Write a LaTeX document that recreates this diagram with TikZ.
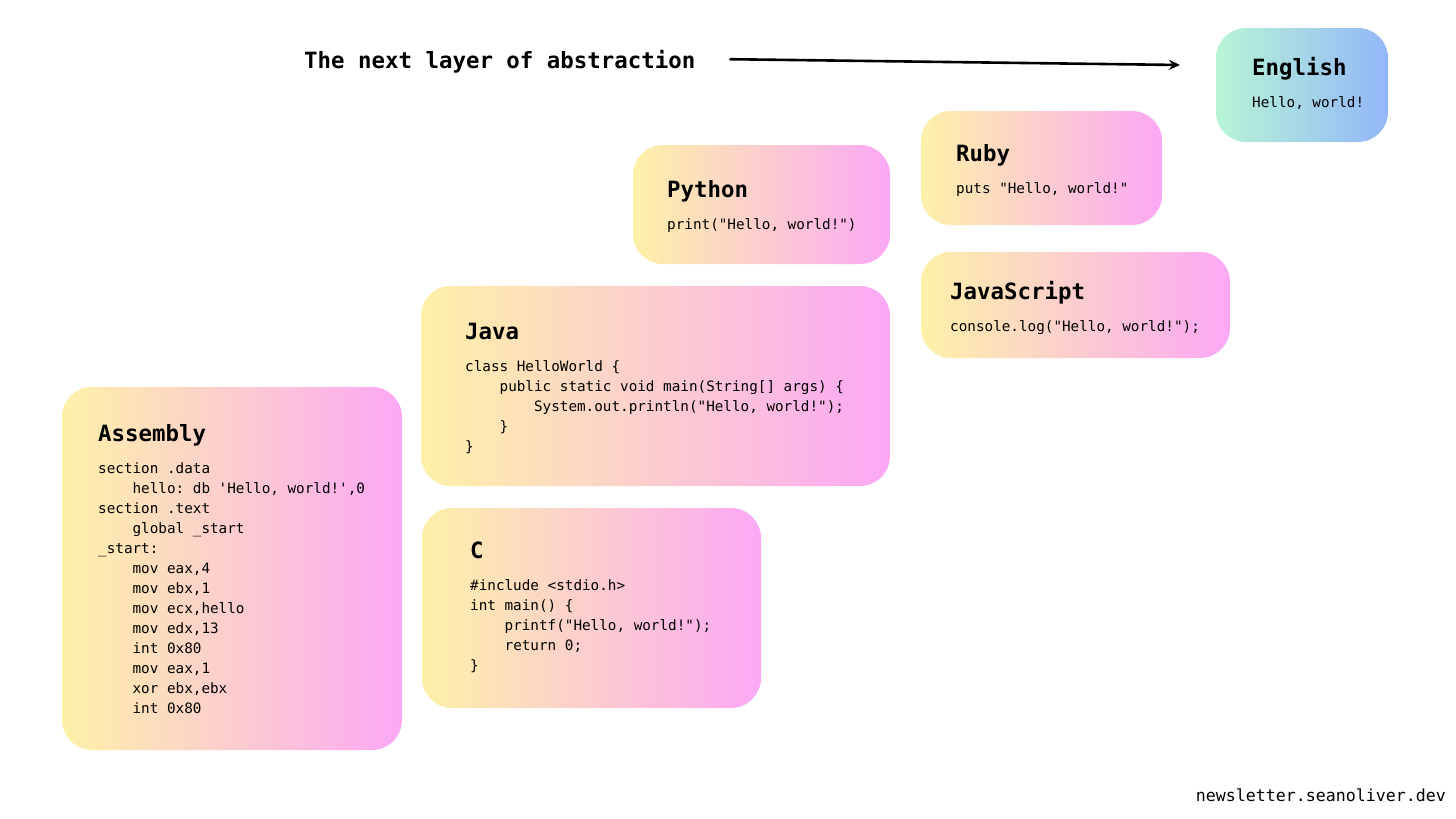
\documentclass[tikz,border=0pt]{standalone}
\usepackage{fontspec}
\setmonofont{DejaVu Sans Mono}
\usetikzlibrary{positioning,arrows.meta}
\definecolor{yelw}{HTML}{FDF1A8}
\definecolor{pnk}{HTML}{FBA8F5}
\definecolor{mint}{HTML}{B8F5D6}
\definecolor{sky}{HTML}{93B7F8}
\newcommand{\indt}{\hphantom{0000}}
\tikzset{
  box/.style={rounded corners=30pt, inner sep=0pt, left color=yelw, right color=pnk},
  ttl/.style={anchor=base west, inner sep=0pt, font=\ttfamily\bfseries\fontsize{22.4}{26}\selectfont},
  code/.style={anchor=base west, inner sep=0pt, align=left, font=\ttfamily\fontsize{14.3}{20}\selectfont}
}
\begin{document}
\begin{tikzpicture}[x=1pt, y=-1pt, >={Stealth[length=11pt,width=10pt]}, line cap=round]
\fill[white] (0,0) rectangle (1456,819);
\useasboundingbox (0,0) rectangle (1456,819);
% Kopf
\node[ttl] (head) at (304,68) {The next layer of abstraction};
\coordinate (tip) at (1180,65);
\draw[->, line width=2.6pt] ([xshift=35pt,yshift=2pt]head.east) -- (tip);
% Assembly (base = letzte Zeile)
\node[box, minimum width=340pt, minimum height=363pt] (asm) at (232,568.5) {};
\node[ttl] (asmT) at (98,441) {Assembly};
\node[code] (asmC) at (98,713) {section .data\\ \indt hello: db 'Hello, world!',0\\ section .text\\ \indt global \_start\\ \_start:\\ \indt mov eax,4\\ \indt mov ebx,1\\ \indt mov ecx,hello\\ \indt mov edx,13\\ \indt int 0x80\\ \indt mov eax,1\\ \indt xor ebx,ebx\\ \indt int 0x80};
% Java
\node[box, minimum width=469pt, minimum height=200pt] (java) at (655.5,386) {};
\node[ttl] (javaT) at (465,339) {Java};
\node[code] (javaC) at (465,451) {class HelloWorld \{\\ \indt public static void main(String[] args) \{\\ \indt\indt System.out.println("Hello, world!");\\ \indt \}\\ \}};
% C
\node[box, minimum width=339pt, minimum height=200pt] (c) at (591.5,608) {};
\node[ttl] (cT) at (470,558) {C};
\node[code] (cC) at (470,670) {\#include <stdio.h>\\ int main() \{\\ \indt printf("Hello, world!");\\ \indt return 0;\\ \}};
% Python
\node[box, minimum width=257pt, minimum height=119pt] (py) at (761.5,204.5) {};
\node[ttl] (pyT) at (667,197) {Python};
\node[code] (pyC) at (667,229) {print("Hello, world!")};
% Ruby
\node[box, minimum width=241pt, minimum height=114pt] (rb) at (1041.5,168) {};
\node[ttl] (rbT) at (956,161) {Ruby};
\node[code] (rbC) at (956,193) {puts "Hello, world!"};
% JavaScript
\node[box, minimum width=309pt, minimum height=106pt] (js) at (1075.5,305) {};
\node[ttl] (jsT) at (950,299) {JavaScript};
\node[code] (jsC) at (950,331) {console.log("Hello, world!");};
% English
\node[box, left color=mint, right color=sky, minimum width=172pt, minimum height=114pt] (eng) at (1302,85) {};
\node[ttl] (engT) at (1252,75) {English};
\node[code] (engC) at (1252,107) {Hello, world!};
% Fuss
\node[anchor=base east, inner sep=0pt, font=\ttfamily\fontsize{16.6}{20}\selectfont] (foot) at (1446,801) {newsletter.seanoliver.dev};
\end{tikzpicture}
\end{document}
